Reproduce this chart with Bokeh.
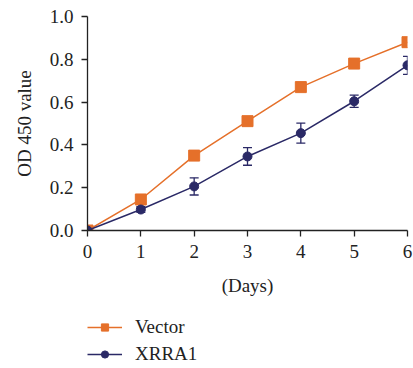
from bokeh.plotting import figure
from bokeh.layouts import column
from bokeh.models import Range1d, Legend, LegendItem, Whisker, ColumnDataSource, FixedTicker, CustomJSTickFormatter
from bokeh.embed import file_html
from bokeh.resources import INLINE

days = [0, 1, 2, 3, 4, 5, 6]
vector = [0.0, 0.145, 0.35, 0.511, 0.67, 0.78, 0.88]
xrra1 = [0.0, 0.098, 0.206, 0.346, 0.455, 0.604, 0.772]
xrra1_err = [0.0, 0.013, 0.04, 0.041, 0.047, 0.029, 0.042]
series_names = ["Vector", "XRRA1"]

ORANGE = "#E5702A"
NAVY = "#2A2966"
FONT = "Liberation Serif"
FS = "19px"

p = figure(width=413, height=300, output_backend="svg", toolbar_location=None,
           x_range=Range1d(0, 6), y_range=Range1d(0, 1.0),
           min_border_left=87, min_border_top=16, min_border_right=6, min_border_bottom=70)
p.outline_line_color = None
p.grid.visible = False
p.background_fill_color = None
p.border_fill_color = "white"

for ax in (p.xaxis[0], p.yaxis[0]):
    ax.axis_line_color = "#222222"
    ax.axis_line_width = 1.3
    ax.major_tick_line_color = "#222222"
    ax.major_tick_line_width = 1.3
    ax.major_tick_out = 6
    ax.major_tick_in = 0
    ax.minor_tick_line_color = None
    ax.major_label_text_font = FONT
    ax.major_label_text_font_size = FS
    ax.major_label_text_color = "#222222"
    ax.axis_label_text_font = FONT
    ax.axis_label_text_font_size = FS
    ax.axis_label_text_font_style = "normal"
    ax.axis_label_text_color = "#222222"

p.xaxis.ticker = FixedTicker(ticks=days)
p.yaxis.ticker = FixedTicker(ticks=[0.0, 0.2, 0.4, 0.6, 0.8, 1.0])
p.yaxis.formatter = CustomJSTickFormatter(code="return tick.toFixed(1);")
p.xaxis.axis_label = "(Days)"
p.yaxis.axis_label = "OD 450 value"
p.xaxis.major_label_standoff = 8
p.xaxis.axis_label_standoff = 14
p.yaxis.major_label_standoff = 8
p.yaxis.axis_label_standoff = 12

src = ColumnDataSource(dict(x=days, v=vector, y=xrra1,
                            lo=[a - b for a, b in zip(xrra1, xrra1_err)],
                            hi=[a + b for a, b in zip(xrra1, xrra1_err)]))

w = Whisker(source=src, base="x", lower="lo", upper="hi", line_color=NAVY, line_width=1.3)
for h in (w.upper_head, w.lower_head):
    h.line_color = NAVY
    h.size = 9
    h.line_width = 1.3
p.add_layout(w)

p.line("x", "v", source=src, line_color=ORANGE, line_width=1.5)
p.scatter("x", "v", source=src, marker="square", size=11, fill_color=ORANGE, line_color=ORANGE)
p.line("x", "y", source=src, line_color=NAVY, line_width=1.5)
p.scatter("x", "y", source=src, marker="circle", size=9, fill_color=NAVY, line_color=NAVY)

# legend panel (series drawn out of view; only the legend shows)
lf = figure(width=413, height=68, output_backend="svg", toolbar_location=None,
            x_range=Range1d(100, 101), y_range=Range1d(100, 101),
            x_axis_type=None, y_axis_type=None,
            min_border_left=0, min_border_right=0, min_border_top=0, min_border_bottom=0)
lf.outline_line_color = None
lf.grid.visible = False
a1 = lf.line("x", "v", source=src, line_color=ORANGE, line_width=1.5)
b1 = lf.scatter("x", "v", source=src, marker="square", size=11, fill_color=ORANGE, line_color=ORANGE)
a2 = lf.line("x", "y", source=src, line_color=NAVY, line_width=1.5)
b2 = lf.scatter("x", "y", source=src, marker="circle", size=9, fill_color=NAVY, line_color=NAVY)

legend = Legend(items=[LegendItem(label=series_names[0], renderers=[a1, b1]),
                       LegendItem(label=series_names[1], renderers=[a2, b2])],
                location=(0, 3), orientation="vertical",
                border_line_alpha=0, background_fill_alpha=0,
                label_text_font=FONT, label_text_font_size=FS, label_text_color="#222222",
                glyph_width=35, glyph_height=18, label_standoff=13, spacing=5,
                padding=0, margin=0)
lf.add_layout(legend)

layout = column(p, lf, spacing=0)
open("out.html", "w").write(file_html(layout, INLINE))
